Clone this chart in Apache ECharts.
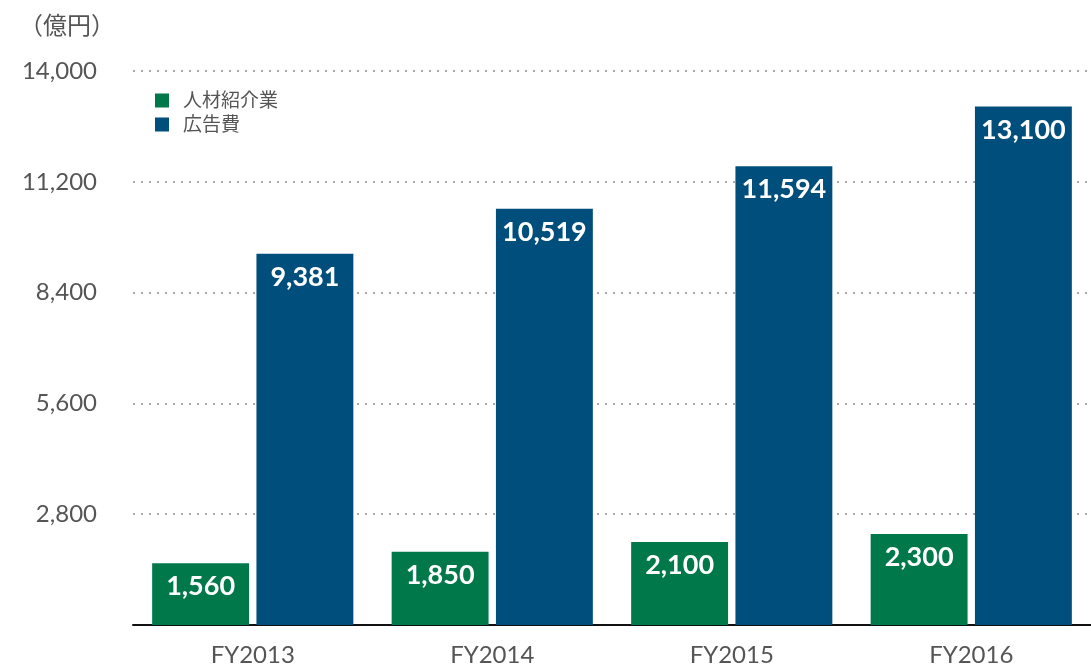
<html>
<head>
  <meta charset="utf-8">
  <title>人材紹介業と広告費</title>
  <script src="https://cdn.jsdelivr.net/npm/echarts@6/dist/echarts.min.js"></script>
  <style>
    body { margin: 0; background: #fff; }
  </style>
</head>
<body>
  <div id="main" style="width: 1091px;height:670px;"></div>
  <script type="text/javascript">
    var years = ['FY2013', 'FY2014', 'FY2015', 'FY2016'];
    var jinzai = [1560, 1850, 2100, 2300];
    var koukoku = [9381, 10519, 11594, 13100];
    var yTicks = [0, 2800, 5600, 8400, 11200, 14000];

    var font = 'Lato, "Noto Sans CJK JP", sans-serif';
    var myChart = echarts.init(document.getElementById('main'));

    function barLabel() {
      return {
        show: true,
        position: 'insideTop',
        distance: 10,
        color: '#fff',
        fontFamily: font,
        fontSize: 27,
        fontWeight: 'bold',
        formatter: function (p) { return p.value.toLocaleString('en-US'); }
      };
    }

    myChart.setOption({
      animation: false,
      textStyle: { fontFamily: font },
      title: {
        text: '（億円）',
        left: 14,
        top: 9,
        textStyle: { fontSize: 24, fontWeight: 'normal', color: '#555', fontFamily: font }
      },
      legend: {
        orient: 'vertical',
        left: 150,
        top: 86,
        icon: 'rect',
        itemWidth: 14,
        itemHeight: 14,
        itemGap: 5,
        textStyle: { fontSize: 19, color: '#555', fontFamily: font, padding: [0, 0, 0, 9] },
        data: ['人材紹介業', '広告費']
      },
      grid: { left: 133, right: -2, top: 71, bottom: 45, containLabel: false },
      xAxis: {
        type: 'category',
        data: years,
        axisTick: { show: false },
        axisLine: { lineStyle: { color: '#111', width: 2 } },
        axisLabel: { margin: 18, fontSize: 24, color: '#555', fontFamily: font }
      },
      yAxis: {
        type: 'value',
        min: yTicks[0],
        max: yTicks[yTicks.length - 1],
        interval: yTicks[1] - yTicks[0],
        axisLine: { show: false },
        axisTick: { show: false },
        axisLabel: {
          margin: 36,
          fontSize: 24,
          color: '#555',
          fontFamily: font,
          formatter: function (v) { return v === 0 ? '' : v.toLocaleString('en-US'); }
        },
        splitLine: { lineStyle: { color: '#aaa', width: 2, type: [2, 6] } }
      },
      series: [
        {
          name: '人材紹介業',
          type: 'bar',
          data: jinzai,
          barGap: '7.6%',
          barCategoryGap: '16%',
          itemStyle: { color: '#00784a' },
          label: barLabel()
        },
        {
          name: '広告費',
          type: 'bar',
          data: koukoku,
          itemStyle: { color: '#004e7c' },
          label: barLabel()
        }
      ]
    });
  </script>
</body>
</html>
